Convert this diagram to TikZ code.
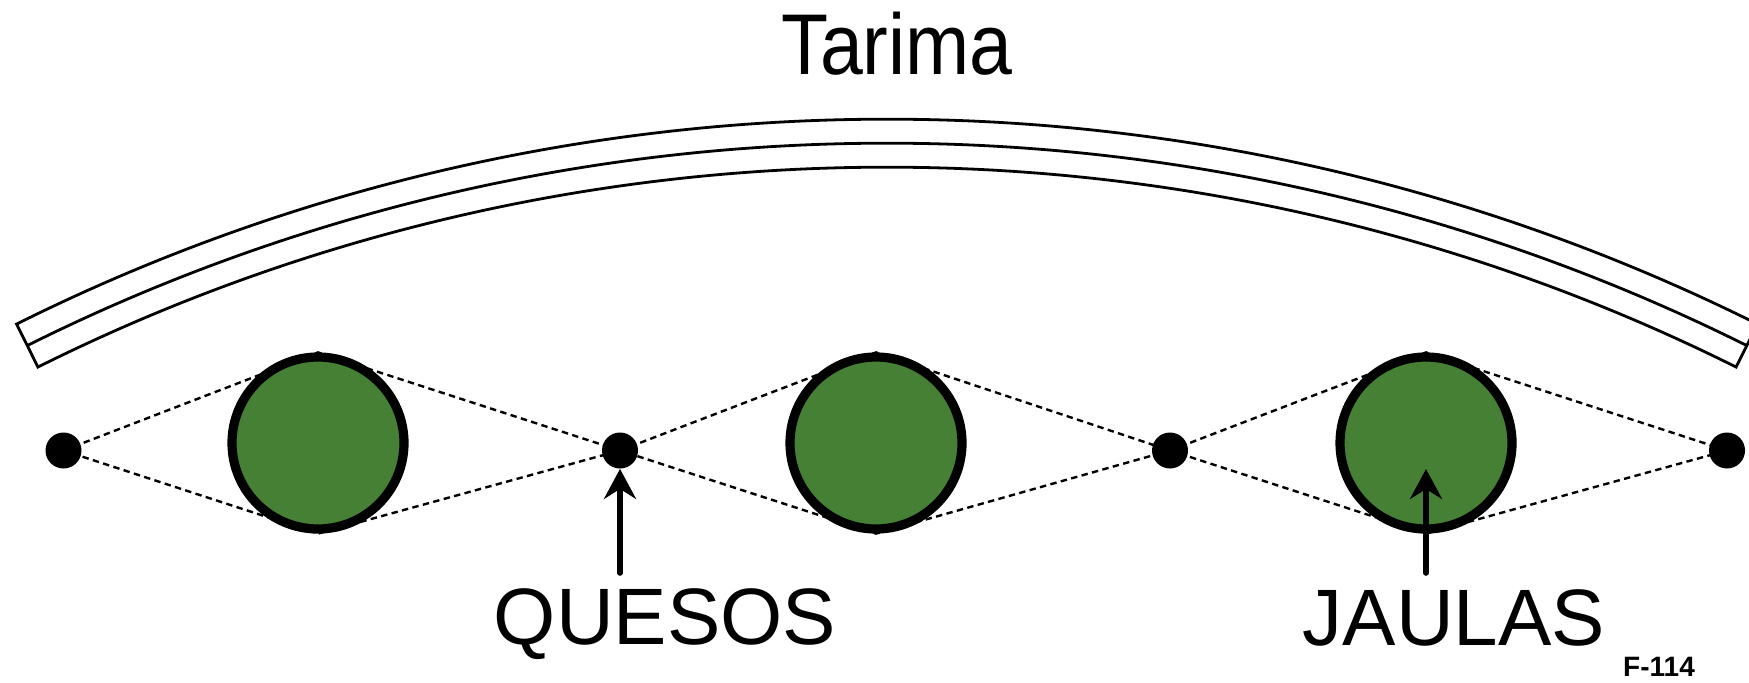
\documentclass[tikz,border=0pt]{standalone}
\usepackage{fontspec}
\setmainfont{Liberation Sans}
\usepackage{xcolor}
\usepackage{tikz}
\usetikzlibrary{arrows.meta,positioning,calc,backgrounds}
\definecolor{jgreen}{RGB}{69,128,52}

\begin{document}
\begin{tikzpicture}[
  x=0.5pt,y=0.5pt,
  jaula/.style={circle,draw,line width=4.6pt,fill=jgreen,minimum size=86pt,inner sep=0pt},
  queso/.style={circle,fill,minimum size=18pt,inner sep=0pt},
  guide/.style={line width=1.2pt,dash pattern=on 3.2pt off 2.2pt},
  board/.style={line width=1.4pt},
  arr/.style={-{Stealth[length=15pt,width=16pt,inset=5pt]},line width=2.8pt,line cap=round},
  tag/.style={anchor=base,font=\fontsize{40}{42}\selectfont}
]
\useasboundingbox (0,0) rectangle (1749,682);
\node[queso] (q1) at (63.5,231.5) {};
\node[jaula] (j1) at (318,239) {};
\node[queso] (q2) at (620,231.5) {};
\node[jaula] (j2) at (876,239) {};
\node[queso] (q3) at (1170,231.5) {};
\node[jaula] (j3) at (1426,239) {};
\node[queso] (q4) at (1727,231.5) {};
\begin{scope}[on background layer]
\foreach \a/\b/\c in {q1/j1/q2,q2/j2/q3,q3/j3/q4}
  \draw[guide] (\a.center) -- (\b.north) -- (\c.center) -- (\b.south) -- cycle;
\end{scope}
\coordinate (c) at (887,-1388);
\draw[board] ($(c)+(116.5:975.5pt)$) arc[start angle=116.5,end angle=63.5,radius=975.5pt]
  -- ($(c)+(63.5:951.5pt)$) arc[start angle=63.5,end angle=116.5,radius=951.5pt] -- cycle;
\draw[board] ($(c)+(116.5:963.5pt)$) arc[start angle=116.5,end angle=63.5,radius=963.5pt];
\node[anchor=base,font=\fontsize{38.5}{40}\selectfont] (tarima) at (897,608) {\scalebox{1}[1.12]{Tarima}};
\node[tag] (quesos) at (665,38) {QUESOS};
\node[tag] (jaulas) at (1454,37) {JAULAS};
\node[anchor=base,font=\bfseries\fontsize{14}{16}\selectfont] (fig) at (1659,5.3) {F-114};
\coordinate (pq) at (620,109);
\draw[arr] (pq) -- (q2.south);
\coordinate (pj) at (1426,109);
\coordinate (tj) at ([yshift=-13pt]j3.center);
\draw[arr] (pj) -- (tj);
\end{tikzpicture}
\end{document}
